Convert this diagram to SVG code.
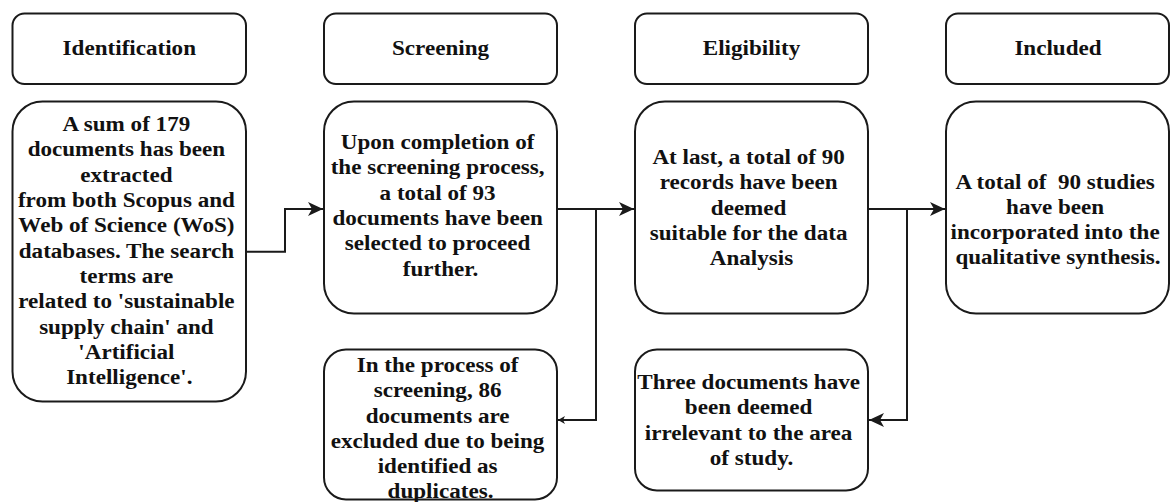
<svg xmlns="http://www.w3.org/2000/svg" width="1171" height="502" viewBox="0 0 1171 502">
<defs>
<style>
.box{fill:#fff;stroke:#1a1a1a;stroke-width:2}
.ln{fill:none;stroke:#1a1a1a;stroke-width:2}
.t{font-family:"Liberation Serif","Times New Roman",serif;font-weight:bold;font-size:20px;fill:#111;text-anchor:middle}
</style>
<marker id="ah" markerUnits="userSpaceOnUse" markerWidth="16" markerHeight="14" refX="15" refY="7" orient="auto">
<path d="M0,0 L15,7 L0,14 L4,7 z" fill="#1a1a1a"/>
</marker>
<marker id="ahs" markerUnits="userSpaceOnUse" markerWidth="8" markerHeight="8" refX="7" refY="4" orient="auto">
<path d="M0,0 L7,4 L0,8 L2,4 z" fill="#1a1a1a"/>
</marker>
</defs>
<g id="connectors">
<path class="ln" d="M246,251.7 H285 V209 H323" marker-end="url(#ah)"/>
<path class="ln" d="M557,209 H634" marker-end="url(#ah)"/>
<path class="ln" d="M596,209 V420 H558" marker-end="url(#ahs)"/>
<path class="ln" d="M868,209 H945" marker-end="url(#ah)"/>
<path class="ln" d="M907,209 V420 H869" marker-end="url(#ah)"/>
</g>
<g id="h-identification">
<rect class="box" x="12.5" y="13.5" width="233.5" height="70.5" rx="12"/>
<text class="t" transform="translate(129.3 0) scale(1.155 1)"><tspan x="0" y="55">Identification</tspan></text>
</g>
<g id="h-screening">
<rect class="box" x="324" y="13.5" width="233" height="70.5" rx="12"/>
<text class="t" transform="translate(440.5 0) scale(1.155 1)"><tspan x="0" y="55">Screening</tspan></text>
</g>
<g id="h-eligibility">
<rect class="box" x="635" y="13.5" width="233" height="70.5" rx="12"/>
<text class="t" transform="translate(751.5 0) scale(1.155 1)"><tspan x="0" y="55">Eligibility</tspan></text>
</g>
<g id="h-included">
<rect class="box" x="946" y="13.5" width="223" height="70.5" rx="12"/>
<text class="t" transform="translate(1058 0) scale(1.155 1)"><tspan x="0" y="55">Included</tspan></text>
</g>
<g id="n-identification">
<rect class="box" x="12.5" y="101.5" width="233.5" height="300" rx="30"/>
<text class="t" transform="translate(129.3 0) scale(1.155 1)">
<tspan x="0" y="131">A sum of 179</tspan>
<tspan x="0" y="156.4">documents has been</tspan>
<tspan x="0" y="181.7">extracted</tspan>
<tspan x="0" y="207.1">from both Scopus and</tspan>
<tspan x="0" y="232.4">Web of Science (WoS)</tspan>
<tspan x="0" y="257.8">databases. The search</tspan>
<tspan x="0" y="283.1">terms are</tspan>
<tspan x="0" y="308.5">related to 'sustainable</tspan>
<tspan x="0" y="333.8">supply chain' and</tspan>
<tspan x="0" y="359.2">'Artificial</tspan>
<tspan x="0" y="384.5">Intelligence'.</tspan>
</text>
</g>
<g id="n-screening">
<rect class="box" x="324" y="101.5" width="233" height="212" rx="30"/>
<text class="t" transform="translate(440.5 0) scale(1.155 1)">
<tspan x="0" y="149">Upon completion of</tspan>
<tspan x="0" y="174.4">the screening process,</tspan>
<tspan x="0" y="199.7">a total of 93</tspan>
<tspan x="0" y="225.1">documents have been</tspan>
<tspan x="0" y="250.4">selected to proceed</tspan>
<tspan x="0" y="275.8">further.</tspan>
</text>
</g>
<g id="n-excluded">
<rect class="box" x="324" y="349.5" width="233" height="150" rx="22"/>
<text class="t" transform="translate(440.5 0) scale(1.155 1)">
<tspan x="0" y="372">In the process of</tspan>
<tspan x="0" y="397.3">screening, 86</tspan>
<tspan x="0" y="422.6">documents are</tspan>
<tspan x="0" y="447.9">excluded due to being</tspan>
<tspan x="0" y="473.2">identified as</tspan>
<tspan x="0" y="498.5">duplicates.</tspan>
</text>
</g>
<g id="n-eligibility">
<rect class="box" x="635" y="101.5" width="233" height="212" rx="30"/>
<text class="t" transform="translate(751.5 0) scale(1.155 1)">
<tspan x="0" y="164">At last, a total of 90</tspan>
<tspan x="0" y="189.4">records have been</tspan>
<tspan x="0" y="214.7">deemed</tspan>
<tspan x="0" y="240.1">suitable for the data</tspan>
<tspan x="0" y="265.4">Analysis</tspan>
</text>
</g>
<g id="n-irrelevant">
<rect class="box" x="635" y="349.5" width="233" height="141" rx="22"/>
<text class="t" transform="translate(751.5 0) scale(1.155 1)">
<tspan x="0" y="389">Three documents have</tspan>
<tspan x="0" y="414.4">been deemed</tspan>
<tspan x="0" y="439.7">irrelevant to the area</tspan>
<tspan x="0" y="465.1">of study.</tspan>
</text>
</g>
<g id="n-included">
<rect class="box" x="946" y="101.5" width="223" height="212" rx="30"/>
<text class="t" transform="translate(1058 0) scale(1.155 1)">
<tspan x="0" y="189.5">A total of&#160; 90 studies</tspan>
<tspan x="0" y="214.2">have been</tspan>
<tspan x="0" y="238.9">incorporated into the</tspan>
<tspan x="0" y="263.6">qualitative synthesis.</tspan>
</text>
</g>
</svg>
